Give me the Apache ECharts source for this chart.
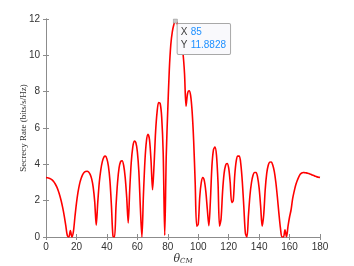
<!DOCTYPE html>
<html><head><meta charset="utf-8">
<script src="https://cdn.jsdelivr.net/npm/echarts@6/dist/echarts.min.js"></script>
<style>html,body{margin:0;padding:0;background:#fff}#c{width:354px;height:266px}</style>
</head><body><div id="c"></div>
<script>
// angle θ_CM in degrees, 0..180 step 1
const angles = [];
for (let i = 0; i <= 180; i++) angles.push(i);
// secrecy rate values (bits/s/Hz)
const rate = [
3.27,3.26,3.24,3.2,3.14,3.05,2.93,2.77,2.56,2.3,
1.98,1.6,1.15,0.62,0.08,0,0.35,0,0.3,1.1,
1.85,2.45,2.9,3.2,3.42,3.55,3.61,3.62,3.58,3.45,
3.2,2.75,1.95,0.65,1.9,3.0,3.7,4.15,4.4,4.45,
4.3,3.9,3.1,1.7,0.05,0,1.7,3.0,3.8,4.15,
4.2,3.95,3.3,2.2,0.78,2.6,4.1,4.95,5.28,5.2,
4.7,3.6,1.6,0,2.3,4.2,5.3,5.66,5.35,4.2,
2.6,4.0,5.8,6.9,7.4,7.35,6.6,4.6,0.1,4.5,
7.0,9.2,10.6,11.3,11.7,11.8828,11.8,11.5,11.1,10.6,
10.1,9.0,7.2,7.9,8.05,7.8,6.9,5.3,3.0,0.6,
0.7,2.2,3.0,3.27,3.1,2.5,1.5,0.62,2.0,3.9,
4.8,4.95,4.5,3.0,0.6,1.0,2.5,3.5,3.95,4.05,
3.8,3.0,1.9,2.0,3.4,4.2,4.45,4.45,4.0,3.0,
1.6,0.2,0,1.2,2.3,3.0,3.4,3.55,3.55,3.3,
2.7,1.7,0.6,1.2,2.6,3.5,3.95,4.12,4.13,3.95,
3.6,3.0,2.2,1.3,0.5,0,0,0.4,0,0.6,
1.1,1.5,2.1,2.5,2.85,3.1,3.3,3.45,3.52,3.55,
3.54,3.53,3.51,3.48,3.45,3.41,3.38,3.34,3.31,3.29,
3.27
];
const xTicks = [0,20,40,60,80,100,120,140,160,180];
const yTicks = [0,2,4,6,8,10,12];
const tipIndex = 85;

const axisCol = '#8c8c8c';
const txtCol = '#333';
const chart = echarts.init(document.getElementById('c'), null, {renderer:'canvas'});
const data = angles.map((a,i)=>[a, rate[i]]);
const xBase = {type:'value', min:0, max:180, interval:20,
  axisLine:{show:true, lineStyle:{color:axisCol, width:1}},
  axisTick:{show:true, inside:true, length:3, lineStyle:{color:axisCol}},
  splitLine:{show:false}};
const yBase = {type:'value', min:0, max:12, interval:2,
  axisLine:{show:true, lineStyle:{color:axisCol, width:1}},
  axisTick:{show:true, inside:true, length:3, lineStyle:{color:axisCol}},
  splitLine:{show:false}};
chart.setOption({
  animation:false,
  backgroundColor:'#fff',
  grid:{left:46, right:34, top:19, bottom:29, containLabel:false, outerBoundsMode:'none'},
  xAxis:[
    Object.assign({}, xBase, {position:'bottom',
      axisLabel:{color:txtCol, fontSize:10, fontFamily:'Liberation Sans, Arial', margin:5},
      name:'{t|θ}{s|CM}', nameLocation:'middle', nameGap:16, nameMoveOverlap:false,
      nameTextStyle:{rich:{
        t:{fontFamily:'DejaVu Serif, serif', fontStyle:'italic', fontSize:11, color:txtCol, lineHeight:12},
        s:{fontFamily:'DejaVu Serif, serif', fontStyle:'italic', fontSize:7, color:txtCol, lineHeight:12, padding:[4,0,0,0]}
      }}}),
    Object.assign({}, xBase, {position:'top', axisLabel:{show:false}})
  ],
  yAxis:[
    Object.assign({}, yBase, {position:'left',
      axisLabel:{color:txtCol, fontSize:10, fontFamily:'Liberation Sans, Arial', margin:6},
      name:'Secrecy Rate (bits/s/Hz)', nameLocation:'middle', nameGap:18, nameMoveOverlap:false,
      nameTextStyle:{fontFamily:'Liberation Serif, DejaVu Serif, serif', fontSize:9, color:txtCol}}),
    Object.assign({}, yBase, {position:'right', axisLabel:{show:false}})
  ],
  series:[{
    type:'line', data:data, showSymbol:false, smooth:0.3,
    lineStyle:{color:'#ff0000', width:1.6},
    markPoint:{
      symbol:'rect', symbolSize:4,
      itemStyle:{color:'#c8c8c8', borderColor:'#888', borderWidth:0.5},
      data:[{coord:[angles[tipIndex], rate[tipIndex]], value:rate[tipIndex]}],
      label:{show:true, position:[4.5,5], 
        formatter:()=>'{k|X} {v|'+angles[tipIndex]+'}\n{k|Y} {v|'+rate[tipIndex].toFixed(4)+'}',
        backgroundColor:'#f9f9fc', borderColor:'#a8a8a8', borderWidth:1, borderRadius:1,
        padding:[2,4,2,3],
        rich:{
          k:{color:'#404040', fontSize:10, fontFamily:'Liberation Sans, Arial', lineHeight:13},
          v:{color:'#1e90ff', fontSize:10, fontFamily:'Liberation Sans, Arial', lineHeight:13}
        }}
    }
  }]
});
</script></body></html>
